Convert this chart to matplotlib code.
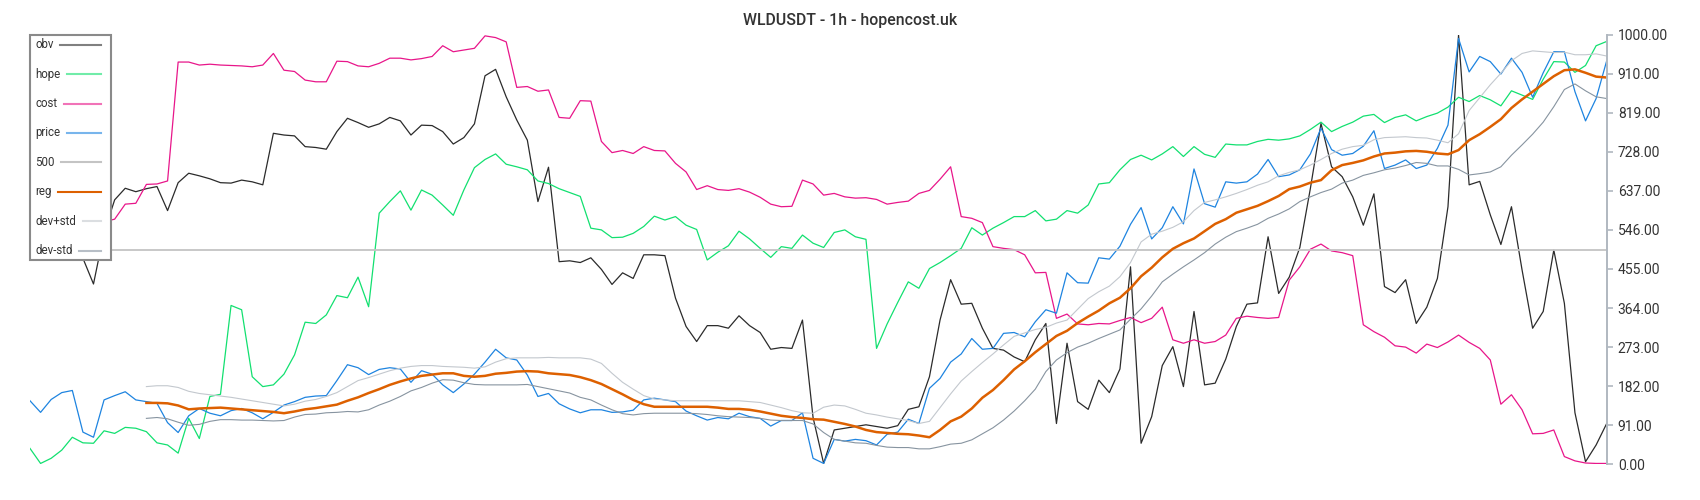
import matplotlib.pyplot as plt
import numpy as np
from matplotlib.lines import Line2D
from matplotlib.patches import Rectangle

# hourly candles, 2h sampling of the chart
obv = [
    520, 540, 510, 530, 500, 480, 420, 540, 616, 643,
    635, 642, 647, 591, 656, 678, 672, 665, 656, 655,
    662, 658, 651, 771, 767, 765, 740, 738, 734, 775,
    806, 796, 785, 793, 808, 800, 767, 790, 789, 775,
    746, 761, 793, 905, 920, 856, 802, 755, 612, 692,
    472, 474, 470, 481, 454, 419, 446, 433, 488, 488,
    486, 387, 321, 286, 323, 323, 317, 346, 323, 307,
    268, 272, 270, 336, 109, 2, 80, 84, 88, 92,
    88, 84, 90, 128, 134, 204, 336, 430, 373, 375,
    317, 270, 266, 250, 239, 290, 328, 95, 282, 146,
    128, 196, 167, 222, 460, 49, 111, 230, 274, 181,
    356, 185, 189, 245, 321, 373, 376, 530, 398, 436,
    505, 643, 794, 693, 670, 623, 557, 630, 414, 400,
    430, 328, 366, 433, 600, 1000, 651, 659, 581, 512,
    600, 453, 317, 356, 499, 375, 120, 6, 45, 95,
]
hope = [
    37, 2, 14, 33, 63, 50, 49, 78, 72, 86,
    84, 76, 50, 45, 26, 107, 60, 158, 163, 370,
    360, 204, 181, 185, 210, 255, 331, 328, 348, 393,
    388, 436, 367, 585, 612, 637, 592, 639, 627, 604,
    580, 639, 691, 710, 723, 699, 693, 686, 660, 654,
    642, 633, 624, 550, 546, 528, 529, 538, 554, 578,
    569, 577, 557, 547, 476, 494, 509, 543, 525, 503,
    482, 507, 503, 534, 515, 505, 540, 546, 530, 524,
    270, 327, 377, 425, 410, 456, 470, 486, 503, 551,
    534, 550, 563, 577, 577, 591, 567, 571, 591, 585,
    604, 653, 656, 686, 710, 720, 709, 723, 740, 717,
    740, 722, 715, 746, 744, 744, 752, 757, 755, 758,
    765, 780, 797, 775, 787, 797, 811, 815, 796, 808,
    814, 800, 810, 818, 832, 855, 845, 859, 849, 835,
    870, 860, 850, 897, 938, 937, 913, 929, 975, 985,
]
cost = [
    555, 560, 560, 558, 560, 562, 563, 565, 571, 606,
    608, 652, 653, 660, 937, 937, 930, 932, 930, 929,
    928, 926, 930, 957, 918, 915, 895, 891, 891, 939,
    938, 928, 926, 934, 946, 946, 942, 945, 950, 975,
    961, 965, 969, 998, 994, 984, 878, 880, 869, 872,
    808, 806, 847, 846, 752, 726, 731, 724, 740, 731,
    730, 701, 681, 640, 649, 640, 638, 642, 634, 622,
    606, 600, 601, 662, 653, 627, 631, 623, 620, 621,
    617, 606, 610, 613, 631, 638, 664, 693, 577, 573,
    563, 507, 503, 500, 488, 446, 447, 340, 350, 327,
    325, 328, 327, 335, 342, 330, 340, 366, 290, 282,
    290, 282, 286, 301, 340, 345, 342, 340, 342, 429,
    460, 501, 513, 497, 493, 486, 325, 309, 296, 276,
    273, 259, 280, 272, 285, 301, 284, 270, 243, 140,
    162, 127, 71, 72, 80, 18, 8, 3, 2, 2,
]
price = [
    148, 121, 151, 167, 172, 75, 63, 150, 160, 169,
    150, 146, 142, 97, 74, 113, 130, 119, 113, 125,
    130, 120, 106, 121, 138, 146, 156, 159, 160, 195,
    232, 225, 209, 221, 225, 222, 191, 218, 210, 185,
    167, 187, 210, 238, 268, 248, 243, 208, 158, 165,
    141, 129, 120, 127, 127, 121, 122, 126, 150, 154,
    150, 146, 124, 113, 103, 109, 106, 119, 111, 107,
    89, 102, 102, 120, 14, 2, 58, 54, 58, 55,
    45, 70, 75, 105, 95, 177, 200, 238, 257, 293,
    268, 270, 305, 307, 297, 332, 360, 352, 446, 423,
    422, 481, 478, 508, 559, 598, 525, 551, 600, 560,
    688, 607, 599, 658, 655, 658, 676, 710, 670, 674,
    686, 723, 783, 733, 720, 724, 741, 777, 689, 697,
    709, 689, 697, 736, 790, 992, 914, 950, 938, 909,
    946, 913, 855, 912, 961, 961, 868, 800, 852, 940,
]
# regression line and its bands start once the window is full
reg = [
    143, 143, 142, 137, 128, 130, 131, 132, 130,
    128, 126, 124, 122, 119, 123, 128, 131, 135, 139,
    148, 156, 166, 175, 185, 193, 200, 206, 209, 212,
    212, 206, 204, 206, 211, 213, 216, 217, 216, 212,
    210, 208, 203, 196, 187, 175, 163, 150, 140, 134,
    134, 134, 134, 134, 134, 132, 129, 129, 127, 123,
    118, 113, 110, 108, 105, 104, 99, 94, 88, 80,
    75, 73, 71, 70, 67, 63, 80, 100, 111, 130,
    155, 173, 196, 221, 240, 261, 280, 299, 311, 329,
    344, 358, 375, 388, 410, 438, 458, 482, 502, 515,
    526, 543, 560, 571, 586, 594, 602, 613, 625, 641,
    647, 656, 662, 685, 697, 702, 708, 717, 724, 726,
    729, 730, 728, 724, 722, 732, 755, 769, 786, 804,
    830, 850, 868, 886, 904, 918, 920, 912, 903, 901,
]
dev_plus = [
    181, 183, 183, 179, 170, 165, 162, 159, 156,
    152, 148, 144, 140, 136, 140, 147, 151, 158, 167,
    181, 195, 202, 210, 218, 224, 228, 230, 230, 228,
    227, 226, 224, 227, 238, 246, 248, 248, 248, 249,
    248, 248, 248, 245, 235, 212, 191, 175, 160, 152,
    150, 148, 148, 148, 148, 148, 148, 148, 146, 144,
    138, 132, 125, 120, 119, 133, 138, 136, 128, 119,
    115, 110, 106, 102, 95, 100, 132, 164, 194, 216,
    237, 257, 278, 298, 306, 314, 319, 329, 336, 361,
    386, 402, 415, 437, 470, 518, 536, 543, 552, 565,
    591, 610, 616, 623, 631, 640, 650, 658, 672, 680,
    686, 697, 710, 724, 734, 740, 743, 756, 761, 762,
    763, 761, 760, 755, 749, 770, 824, 854, 884, 911,
    940, 957, 963, 961, 959, 960, 954, 954, 956, 951,
]
dev_minus = [
    107, 109, 106, 98, 91, 93, 100, 104, 104,
    103, 103, 102, 101, 102, 110, 116, 117, 120, 121,
    123, 122, 127, 138, 147, 158, 171, 179, 189, 197,
    196, 190, 186, 185, 185, 185, 185, 186, 181, 176,
    171, 166, 156, 150, 138, 127, 118, 115, 118, 119,
    119, 119, 119, 118, 116, 113, 111, 110, 109, 107,
    103, 102, 102, 102, 94, 74, 58, 54, 50, 49,
    44, 40, 39, 39, 36, 36, 41, 47, 49, 57,
    71, 85, 103, 124, 148, 175, 216, 243, 260, 273,
    282, 293, 303, 313, 338, 362, 392, 425, 443, 460,
    476, 493, 513, 529, 542, 550, 559, 573, 583, 595,
    612, 623, 633, 641, 655, 662, 673, 679, 686, 690,
    696, 703, 701, 695, 695, 687, 674, 677, 681, 693,
    720, 744, 769, 797, 833, 873, 886, 870, 856, 852,
]
level = 500
y_ticks = [0, 91, 182, 273, 364, 455, 546, 637, 728, 819, 910, 1000]
title = "WLDUSDT - 1h - hopencost.uk"

W, H = 1700, 500


def main() -> None:
    plt.rcParams["font.family"] = ["Roboto", "DejaVu Sans"]

    t = np.arange(len(price))
    tb = t[len(t) - len(reg):]

    fig = plt.figure(figsize=(W / 100, H / 100), dpi=100)
    ax = fig.add_axes([30 / W, 35.7 / H, 1576.7 / W, 429.3 / H])

    ax.plot(t, obv, color="#2b2b2b", lw=0.9, label="obv")
    ax.plot(t, hope, color="#12e070", lw=0.9, label="hope")
    ax.plot(t, cost, color="#e8168a", lw=0.9, label="cost")
    ax.plot(t, price, color="#1e84e0", lw=0.9, label="price")
    ax.axhline(level, color="#c4c4c4", lw=1.3, label=str(level))
    ax.plot(tb, reg, color="#dd6000", lw=1.8, label="reg")
    ax.plot(tb, dev_plus, color="#c3c8ce", lw=0.8, label="dev+std")
    ax.plot(tb, dev_minus, color="#8794a0", lw=0.8, label="dev-std")

    ax.set_xlim(0, len(t) - 1)
    ax.set_ylim(0, 1000)
    ax.set_xticks([])
    ax.yaxis.tick_right()
    ax.set_yticks(y_ticks)
    ax.set_yticklabels([f"{v:.2f}" for v in y_ticks])
    ax.tick_params(axis="y", length=4, width=1.2, color="#b0b8c0",
                   labelsize=10, labelcolor="#333333", pad=4)
    for side in ["left", "top", "bottom"]:
        ax.spines[side].set_visible(False)
    ax.spines["right"].set_color("#b0b8c0")
    ax.spines["right"].set_linewidth(1.4)

    # legend box: labels on the left, line samples flush right
    box_l, box_r, box_t, box_b = 30, 110.7, 34.7, 260
    fig.add_artist(Rectangle((box_l / W, 1 - box_b / H), (box_r - box_l) / W,
                             (box_b - box_t) / H, transform=fig.transFigure,
                             facecolor="white", edgecolor="#8a8a8a", lw=1.5,
                             zorder=5))
    handles, labels = ax.get_legend_handles_labels()
    renderer = fig.canvas.get_renderer()
    row0, row_step = 44.7, 29.43
    for i, (h, lab) in enumerate(zip(handles, labels)):
        yc = 1 - (row0 + i * row_step) / H
        txt = fig.text(35.3 / W, yc, lab, ha="left", va="center",
                       fontsize=8.3, color="#333333", zorder=6)
        x_end = txt.get_window_extent(renderer).x1
        alpha = 1.0 if lab in ("reg", str(level)) else 0.6
        fig.add_artist(Line2D([(x_end + 6.5) / W, 100.7 / W], [yc, yc],
                              transform=fig.transFigure, color=h.get_color(),
                              alpha=alpha, lw=1.5, zorder=6))

    fig.text(0.5, 1 - 20 / H, title, ha="center", va="center",
             fontsize=11.4, fontweight=500, color="#333333")

    fig.savefig("out.png", dpi=100)
    plt.close(fig)


if __name__ == "__main__":
    main()
